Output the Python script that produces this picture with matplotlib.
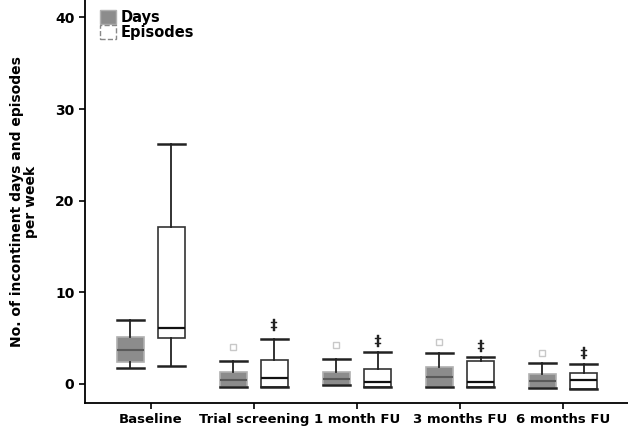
import matplotlib
matplotlib.use("Agg")
import matplotlib.pyplot as plt
from matplotlib.patches import Patch

categories = ["Baseline", "Trial screening", "1 month FU", "3 months FU", "6 months FU"]

# Days: whislo, q1, median, q3, whishi, outlier
days_whislo = [1.75, -0.3, -0.1, -0.3, -0.45]
days_q1 = [2.4, -0.3, -0.1, -0.3, -0.45]
days_med = [3.7, 0.45, 0.5, 0.75, 0.3]
days_q3 = [5.1, 1.3, 1.3, 1.85, 1.1]
days_whishi = [7.0, 2.5, 2.7, 3.4, 2.3]
days_out = [[], [4.0], [4.25], [4.6], [3.4]]

# Episodes
epi_whislo = [1.96, -0.3, -0.3, -0.3, -0.55]
epi_q1 = [5.0, -0.3, -0.3, -0.3, -0.55]
epi_med = [6.1, 0.65, 0.2, 0.2, 0.45]
epi_q3 = [17.1, 2.6, 1.6, 2.5, 1.2]
epi_whishi = [26.2, 4.9, 3.5, 2.95, 2.2]
epi_out = [[], [6.4], [4.7], [4.1], [3.4]]

yticks = [0, 10, 20, 30, 40]

def stats(wl, q1, med, q3, wh, out, labels):
    return [dict(whislo=a, q1=b, med=c, q3=d, whishi=e, fliers=f, label=l)
            for a, b, c, d, e, f, l in zip(wl, q1, med, q3, wh, out, labels)]

fig = plt.figure(figsize=(6.28, 4.40), dpi=100)
ax = fig.add_axes([0.135, 0.084, 0.865, 0.916])

pos = list(range(len(categories)))
w = 0.26
off = 0.2

ax.bxp(stats(days_whislo, days_q1, days_med, days_q3, days_whishi, days_out, categories),
       positions=[p - off for p in pos], widths=w, patch_artist=True, showfliers=True,
       boxprops=dict(facecolor="#8c8c8c", edgecolor="#b0b0b0", linewidth=1.2),
       medianprops=dict(color="#5a5a5a", linewidth=1.5),
       whiskerprops=dict(color="#222222", linewidth=1.3),
       capprops=dict(color="#222222", linewidth=1.8),
       capwidths=w,
       flierprops=dict(marker="s", markerfacecolor="none", markeredgecolor="#c8c8c8",
                       markersize=5, markeredgewidth=1))

ax.bxp(stats(epi_whislo, epi_q1, epi_med, epi_q3, epi_whishi, epi_out, categories),
       positions=[p + off for p in pos], widths=w, patch_artist=True, showfliers=True,
       boxprops=dict(facecolor="white", edgecolor="#333333", linewidth=1.2),
       medianprops=dict(color="#111111", linewidth=1.6),
       whiskerprops=dict(color="#222222", linewidth=1.3),
       capprops=dict(color="#222222", linewidth=1.8),
       capwidths=w,
       flierprops=dict(marker="$\u2021$", markerfacecolor="#222222", markeredgecolor="#222222",
                       markersize=9, markeredgewidth=0.3))

ax.set_xticks(pos)
ax.set_xticklabels(categories, fontsize=9.5, fontweight="bold")
ax.set_yticks(yticks)
ax.set_yticklabels([str(t) for t in yticks], fontsize=10, fontweight="bold")
ax.set_xlim(-0.64, 4.63)
ax.set_ylim(-2.1, 41.9)
ax.spines["top"].set_visible(False)
ax.spines["right"].set_visible(False)
ax.spines["left"].set_linewidth(1.3)
ax.spines["bottom"].set_linewidth(1.3)
ax.tick_params(axis="both", direction="out", length=4, width=1.2)

ax.set_ylabel("No. of incontinent days and episodes\nper week", fontsize=10,
              fontweight="bold", labelpad=12, linespacing=1.0)

handles = [Patch(facecolor="#8c8c8c", edgecolor="#b0b0b0", label="Days"),
           Patch(facecolor="white", edgecolor="#888888", linestyle="--", label="Episodes")]
ax.legend(handles=handles, loc="upper left", bbox_to_anchor=(0.01, 1.0), frameon=False,
          prop=dict(size=10.5, weight="bold"), handlelength=1.1, handleheight=1.1,
          handletextpad=0.3, labelspacing=0.0, borderaxespad=0.3)

fig.savefig("out.png", dpi=100)
